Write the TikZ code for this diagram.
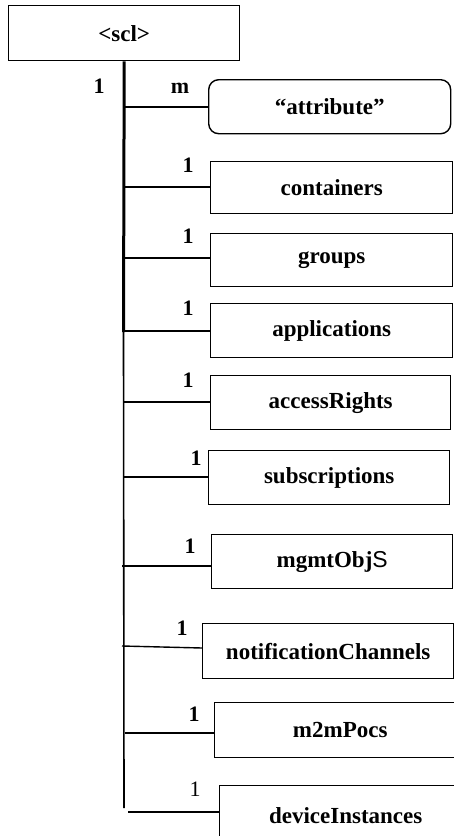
\documentclass[tikz,border=0pt]{standalone}
\usepackage{fontspec}
\setmainfont{Liberation Serif}
\newfontfamily\sansfam{Liberation Sans}
\begin{document}
\begin{tikzpicture}[x=1pt,y=-1pt,
  box/.style={draw=black, line width=1.4pt, anchor=north west, inner sep=0pt,
    font=\fontsize{23}{27}\selectfont\bfseries},
  lbl/.style={anchor=base, inner sep=0pt, font=\fontsize{22}{26}\selectfont\bfseries},
  lblr/.style={anchor=base, inner sep=0pt, font=\fontsize{22}{26}\selectfont},
  branch/.style={line width=1.4pt},
]
\clip (0,0) rectangle (454,836);
\fill[white] (0,0) rectangle (454,836);

\node[box, minimum width=231pt, minimum height=55pt] (scl) at (8,5) {<scl>};
\node[box, rounded corners=10pt, minimum width=242pt, minimum height=54pt] (attr) at (208,79) {“attribute”};
\node[box, minimum width=242pt, minimum height=52pt] (cont) at (210,161) {containers};
\node[box, minimum width=242pt, minimum height=53pt] (grp) at (210,233) {groups};
\node[box, minimum width=242pt, minimum height=54pt] (app) at (210,303) {applications};
\node[box, minimum width=240pt, minimum height=54pt] (acc) at (210,375) {accessRights};
\node[box, minimum width=241pt, minimum height=54pt] (sub) at (208,450) {subscriptions};
\node[box, minimum width=241pt, minimum height=54pt] (mgmt) at (211,534) {mgmtObj{\sansfam\mdseries S}};
\node[box, minimum width=251pt, minimum height=55pt] (notif) at (202,623) {notificationChannels};
\node[box, minimum width=251pt, minimum height=55pt] (m2m) at (214,702) {m2mPocs};
\node[box, minimum width=252pt, minimum height=60pt] (dev) at (219,785) {deviceInstances};

% trunk
\coordinate (tmid) at (123.5,332);
\coordinate (tend) at (124,808);
\draw[line width=3pt] (scl.south) -- (tmid);
\draw[line width=1.6pt] (123.5,329) -- (tend);

% branch points on the trunk
\coordinate (b1) at (123,107);
\coordinate (b2) at (123,187);
\coordinate (b3) at (123,258);
\coordinate (b4) at (123,331);
\coordinate (b5) at (123,402);
\coordinate (b6) at (123,477);
\coordinate (b7) at (122,566);
\coordinate (b8) at (122,646);
\coordinate (b9) at (125,733);
\coordinate (b10) at (128,812);

\draw[branch] (b1) -- (b1 -| attr.west);
\draw[branch] (b2) -- (b2 -| cont.west);
\draw[branch] (b3) -- (b3 -| grp.west);
\draw[branch] (b4) -- (b4 -| app.west);
\draw[branch] (b5) -- (b5 -| acc.west);
\draw[branch] (b6) -- (b6 -| sub.west);
\draw[branch] (b7) -- (b7 -| mgmt.west);
\draw[branch] (b8) -- ([yshift=-2pt]b8 -| notif.west);
\draw[branch] (b9) -- (b9 -| m2m.west);
\draw[branch] (b10) -- (b10 -| dev.west);

% multiplicity labels
\node[lbl] (l0) at (99,93) {1};
\node[lbl] (l1) at (180,93) {m};
\node[lbl] (l2) at (188,172) {1};
\node[lbl] (l3) at (188,243) {1};
\node[lbl] (l4) at (188,315) {1};
\node[lbl] (l5) at (188,387) {1};
\node[lbl] (l6) at (196,465) {1};
\node[lbl] (l7) at (190,553) {1};
\node[lbl] (l8) at (182,635) {1};
\node[lbl] (l9) at (194,721) {1};
\node[lblr] (l10) at (195,796) {1};
\end{tikzpicture}
\end{document}
